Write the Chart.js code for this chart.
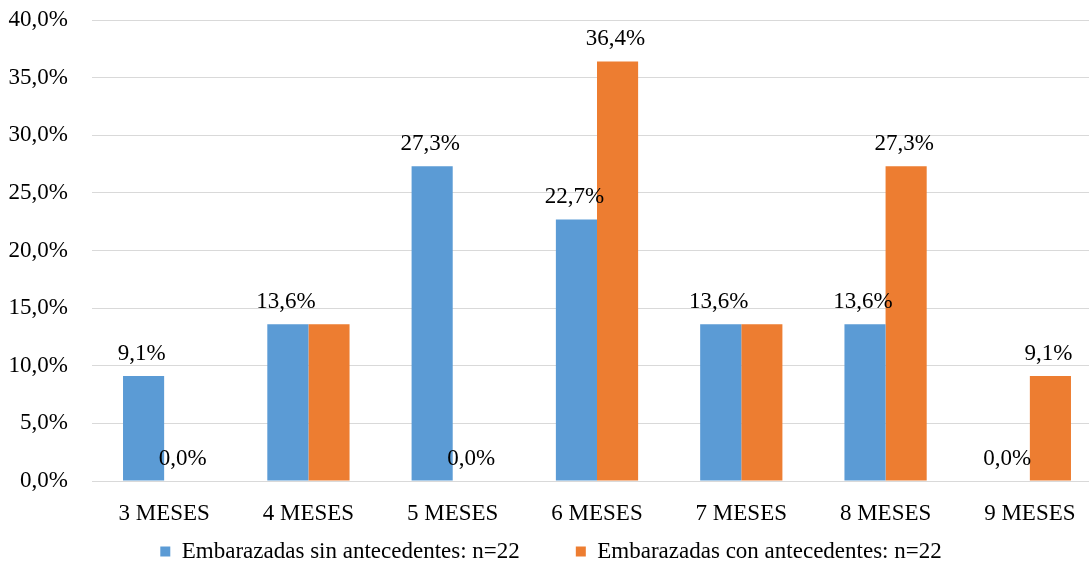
<!DOCTYPE html>
<html lang="es">
  <head>
    <meta charset="UTF-8">
    <title>Meses</title>
    <script src="https://cdn.jsdelivr.net/npm/chart.js"></script>
    <style>
      html, body { margin: 0; padding: 0; overflow: hidden; background: #fff; }
      #caja { width: 1102px; height: 573px; }
    </style>
  </head>
  <body>
    <div id="caja">
      <canvas id="grafico1"></canvas>
    </div>

    <script>
      const ctx = document.getElementById('grafico1');

      let categorias = ["3 MESES","4 MESES","5 MESES","6 MESES","7 MESES","8 MESES","9 MESES"]
      let sinAntecedentes = [9.1, 13.6, 27.3, 22.7, 13.6, 13.6, 0.0]
      let conAntecedentes = [0.0, 13.6, 0.0, 36.4, 13.6, 27.3, 9.1]
      let nombres = ["Embarazadas sin antecedentes: n=22","Embarazadas con antecedentes: n=22"]
      // etiquetas de la serie naranja que no aparecen en el original
      let sinEtiquetaNaranja = [1, 4]

      const fuente = "'Liberation Serif', 'Times New Roman', serif"
      const tam = 23
      const fmt = v => v.toFixed(1).replace('.', ',') + '%'

      const etiquetas = {
        id: 'etiquetas',
        afterDatasetsDraw(chart) {
          const c = chart.ctx
          c.save()
          c.font = tam + 'px ' + fuente
          c.fillStyle = '#000'
          c.textAlign = 'center'
          c.textBaseline = 'alphabetic'
          chart.data.datasets.forEach((ds, i) => {
            chart.getDatasetMeta(i).data.forEach((bar, j) => {
              if (i == 1 && sinEtiquetaNaranja.includes(j)) return
              c.fillText(fmt(ds.data[j]), bar.x - 2, bar.y - 16)
            })
          })
          c.restore()
        }
      }

      let grafico1 = new Chart(ctx, {
        type: 'bar',
        data: {
          labels: categorias,
          datasets: [{
            label: nombres[0],
            data: sinAntecedentes,
            backgroundColor: '#5B9BD5'
          }, {
            label: nombres[1],
            data: conAntecedentes,
            backgroundColor: '#ED7D31'
          }]
        },
        plugins: [etiquetas],
        options: {
          responsive: true,
          maintainAspectRatio: false,
          animation: false,
          layout: { padding: { top: 20, left: 0, right: 0, bottom: 0 } },
          datasets: {
            bar: { categoryPercentage: 0.57, barPercentage: 1.0 }
          },
          plugins: {
            tooltip: { enabled: false },
            legend: {
              position: 'bottom',
              labels: {
                boxWidth: 10,
                boxHeight: 10,
                padding: 10,
                color: '#000',
                font: { family: fuente, size: tam },
                // hueco entre las dos entradas como en el original
                generateLabels: chart => {
                  const items = Chart.defaults.plugins.legend.labels.generateLabels(chart)
                  items[0].text += '\u00a0'.repeat(8)
                  return items
                }
              }
            }
          },
          scales: {
            x: {
              afterFit: s => { s.height = 49 },
              grid: { display: false },
              border: { color: '#d9d9d9' },
              ticks: {
                color: '#000',
                padding: 11,
                font: { family: fuente, size: tam }
              }
            },
            y: {
              min: 0,
              max: 40,
              afterFit: s => { s.width = 92 },
              grid: { color: '#d9d9d9', tickLength: 24, tickColor: 'rgba(0,0,0,0)' },
              border: { display: false },
              ticks: {
                stepSize: 5,
                padding: 0,
                color: '#000',
                font: { family: fuente, size: tam },
                callback: v => fmt(v)
              }
            }
          }
        }
      });
    </script>
  </body>
</html>
